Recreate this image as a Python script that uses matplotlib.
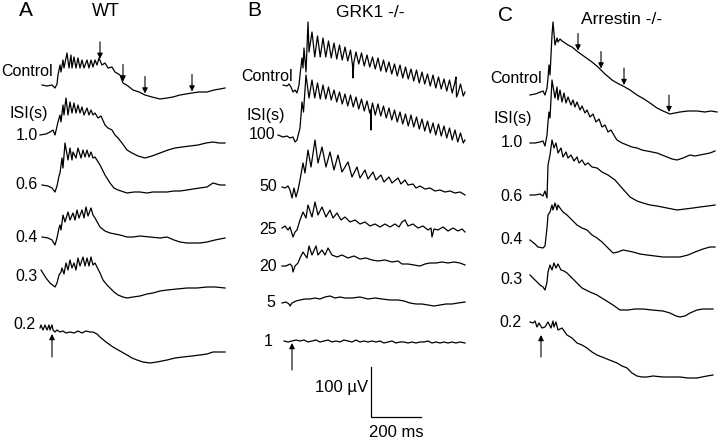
import numpy as np
import matplotlib.pyplot as plt

# Recorded responses, read off the figure:
# each point is (time from the flash in ms, amplitude in uV from the trace baseline)

# A: WT
wt_control = [(-40, 0), (-20, -2), (0, 0), (12, -6), (20, 2), (24, 20), (32, 40), (36, 26), (44, 50),
              (48, 34), (60, 64), (68, 34), (76, 60), (80, 34), (88, 56), (96, 34), (104, 54), (112, 34),
              (120, 50), (128, 34), (140, 50), (148, 34), (156, 50), (164, 36), (172, 50), (180, 40),
              (188, 54), (200, 40), (212, 44), (224, 34), (240, 36), (252, 26), (272, 20), (284, 4),
              (304, -2), (324, -10), (348, -14), (372, -20), (400, -24), (432, -28), (460, -26),
              (484, -24), (512, -20), (536, -18), (560, -16), (588, -14), (620, -14), (648, -10),
              (672, -8), (692, -6)]
wt_1_0 = [(-48, 0), (-24, 2), (-8, 6), (4, 10), (12, 0), (24, 26), (32, 40), (36, 26), (44, 60), (48, 40),
          (56, 74), (64, 40), (72, 66), (80, 44), (88, 64), (96, 44), (104, 60), (112, 44), (120, 56),
          (128, 40), (140, 54), (148, 40), (156, 50), (164, 40), (172, 44), (184, 34), (196, 38), (212, 20),
          (224, 14), (240, 10), (252, 0), (264, -6), (280, -16), (300, -30), (320, -36), (344, -42),
          (372, -46), (400, -42), (432, -36), (464, -30), (492, -26), (520, -24), (552, -22), (584, -20),
          (616, -16), (644, -14), (668, -16), (692, -16)]
wt_0_6 = [(-40, 0), (-16, -2), (0, -6), (12, -14), (20, -2), (28, 18), (32, 24), (40, 54), (44, 34), (52, 84),
          (64, 50), (72, 74), (80, 50), (84, 66), (96, 54), (104, 74), (116, 54), (124, 70), (132, 56),
          (140, 70), (148, 56), (156, 66), (164, 54), (172, 56), (192, 40), (212, 20), (232, 4), (248, -6),
          (264, -10), (300, -16), (328, -14), (352, -14), (380, -16), (404, -14), (432, -14), (460, -14),
          (488, -12), (512, -12), (540, -10), (564, -8), (592, -6), (620, -4), (644, 4), (672, 0), (692, 0)]
wt_0_4 = [(-40, 0), (-16, -2), (0, -6), (12, -16), (20, -2), (28, 18), (32, 24), (36, 14), (44, 44),
          (52, 30), (64, 50), (72, 34), (84, 48), (92, 34), (100, 54), (108, 38), (120, 54), (128, 38),
          (136, 60), (144, 42), (156, 58), (164, 44), (172, 38), (192, 20), (212, 12), (232, 8), (272, 4),
          (300, 0), (324, 0), (352, 2), (392, 0), (432, -2), (460, 0), (488, -6), (512, -10), (540, -12),
          (564, -12), (592, -12), (620, -10), (652, -6), (692, -2)]
wt_0_3 = [(-44, 0), (-24, -16), (-8, -26), (12, -34), (20, -26), (28, -10), (36, -4), (40, 4), (48, -8),
          (56, 14), (64, 0), (72, 20), (80, 4), (88, 14), (96, 0), (104, 24), (112, 8), (124, 26), (132, 8),
          (140, 24), (148, 8), (156, 26), (164, 10), (172, 14), (192, -6), (204, -20), (220, -30),
          (232, -36), (248, -44), (264, -50), (284, -54), (300, -56), (324, -54), (352, -52), (380, -48),
          (404, -46), (432, -42), (460, -40), (500, -38), (540, -36), (580, -36), (620, -34), (652, -34),
          (692, -36)]
wt_0_2 = [(-48, 8), (-44, 14), (-36, 4), (-28, 14), (-20, 4), (-12, 14), (-8, 4), (0, 14), (4, 4), (12, 0),
          (20, 4), (32, 0), (44, 2), (56, -2), (72, 0), (88, -2), (104, 2), (120, -2), (136, 2), (152, 0),
          (164, 0), (180, -4), (192, -10), (216, -20), (244, -30), (272, -38), (300, -46), (320, -52),
          (340, -56), (364, -60), (392, -62), (420, -60), (460, -56), (492, -52), (524, -50), (560, -48),
          (592, -46), (620, -44), (644, -40), (672, -40), (692, -40)]

# B: GRK1 -/-
grk_control = [(-36, 0), (-20, -2), (-12, 2), (-4, -4), (4, -14), (12, -10), (20, -16), (28, 0), (32, 20),
               (40, 54), (44, 34), (48, 74), (56, 26), (64, 126), (68, 66), (80, 106), (91, 56), (102, 98),
               (113, 56), (124, 94), (135, 56), (146, 88), (157, 54), (168, 84), (179, 52), (190, 80),
               (201, 50), (212, 76), (223, 48), (234, 70), (242, 40), (244, 14), (247, 44), (256, 66),
               (267, 42), (278, 64), (289, 38), (300, 60), (311, 36), (322, 56), (333, 32), (344, 54),
               (355, 28), (366, 50), (377, 26), (388, 46), (399, 22), (410, 42), (421, 18), (432, 40),
               (443, 14), (454, 36), (465, 12), (476, 32), (487, 8), (498, 30), (509, 4), (520, 26),
               (531, 2), (542, 22), (553, -2), (564, 20), (575, -6), (586, 16), (597, -8), (608, 12),
               (619, -12), (630, 10), (641, -16), (652, 6), (656, 16), (658, -24), (663, -18), (674, 2),
               (685, -22), (692, -14)]
grk_100 = [(-56, 0), (-36, -4), (-20, -2), (-8, -6), (4, -4), (12, -14), (20, -10), (32, 14), (40, 66),
           (46, 46), (56, 120), (68, 74), (80, 110), (91, 74), (102, 104), (113, 72), (124, 100), (135, 72),
           (146, 96), (157, 70), (168, 90), (179, 66), (190, 86), (201, 62), (212, 82), (223, 58), (234, 80),
           (245, 56), (256, 76), (267, 52), (278, 72), (289, 48), (300, 68), (311, 44), (314, 50), (316, 10),
           (318, 54), (322, 64), (333, 40), (344, 62), (355, 38), (366, 58), (377, 34), (388, 54), (399, 30),
           (410, 50), (421, 26), (432, 46), (443, 22), (454, 42), (465, 18), (476, 40), (487, 16), (498, 36),
           (509, 12), (520, 32), (531, 8), (542, 28), (553, 4), (564, 24), (575, 0), (586, 22), (597, -2),
           (608, 18), (619, -6), (630, 14), (641, -10), (652, 10), (663, -14), (674, 4), (685, -16),
           (692, -10)]
grk_50 = [(-40, 0), (-28, -2), (-16, 2), (-8, -6), (0, -22), (8, -2), (16, -20), (24, -6), (32, 14), (44, 48),
          (52, 28), (64, 74), (76, 40), (92, 94), (104, 48), (120, 80), (136, 40), (152, 70), (168, 34),
          (184, 64), (200, 30), (224, 50), (240, 20), (260, 40), (272, 18), (292, 34), (304, 16), (324, 30),
          (336, 14), (356, 24), (368, 10), (388, 20), (400, 8), (424, 18), (436, 6), (452, 14), (464, 4),
          (484, 6), (496, -2), (512, 2), (532, -4), (552, -2), (572, -8), (592, -6), (612, -10), (632, -8),
          (652, -12), (672, -10), (692, -16)]
grk_25 = [(-40, 0), (-28, 4), (-16, -4), (-8, 2), (4, -18), (12, -8), (20, -4), (32, 16), (44, 32), (56, 20),
          (64, 46), (80, 22), (92, 52), (104, 26), (120, 42), (136, 22), (152, 36), (164, 20), (180, 30),
          (196, 16), (212, 22), (232, 12), (252, 16), (272, 8), (292, 12), (312, 4), (332, 8), (352, 2),
          (372, 8), (392, 2), (412, 8), (428, 2), (440, 12), (452, 16), (464, 4), (484, 8), (504, 0),
          (524, 4), (544, -4), (556, 0), (560, -18), (568, -2), (584, -4), (604, 2), (624, -6), (644, 0),
          (664, -6), (680, -2), (692, -8)]
grk_20 = [(-40, 0), (-24, 0), (-8, 4), (0, 0), (4, -12), (12, 0), (24, 6), (32, 16), (44, 28), (60, 16),
          (68, 40), (80, 22), (96, 40), (104, 22), (120, 32), (132, 22), (144, 36), (160, 22), (180, 18),
          (200, 22), (224, 16), (248, 20), (272, 14), (296, 16), (320, 12), (344, 10), (372, 12), (400, 8),
          (424, 10), (440, 4), (464, 4), (488, 2), (512, 0), (532, 4), (552, 6), (576, 6), (600, 8),
          (624, 6), (648, 8), (672, 6), (692, 2)]
grk_5 = [(-40, 0), (-24, 2), (-12, -2), (-8, -6), (0, 0), (16, 4), (32, 6), (52, 8), (72, 8), (92, 10),
         (112, 8), (132, 12), (152, 14), (172, 10), (192, 12), (212, 10), (240, 10), (272, 12), (304, 8),
         (332, 10), (360, 8), (392, 6), (424, 6), (448, 4), (472, 0), (496, -2), (520, -2), (544, -4),
         (568, -6), (592, -4), (616, -2), (640, -2), (664, 0), (692, 2)]
grk_1 = [(-32, 0), (-16, -2), (0, 0), (16, 2), (32, 0), (48, 2), (64, -2), (80, 0), (96, 2), (112, -2),
         (128, 0), (144, 2), (160, -2), (176, 0), (192, -2), (208, 2), (224, 0), (240, -2), (256, 2),
         (272, -2), (288, 0), (304, -2), (320, 0), (336, -2), (352, 0), (368, -4), (384, -2), (400, 0),
         (416, -4), (432, -2), (448, -2), (464, -4), (480, -2), (496, -4), (512, -2), (528, -2), (544, 0),
         (560, -4), (576, -2), (592, -4), (608, -2), (624, -4), (640, -2), (656, -4), (672, -2), (692, -4)]

# C: Arrestin -/-
arr_control = [(-44, 0), (-24, 2), (-12, 4), (8, 8), (16, 0), (24, 14), (28, 34), (32, 60), (36, 40),
               (44, 120), (48, 146), (56, 100), (64, 114), (68, 106), (76, 112), (84, 108), (96, 104),
               (108, 100), (124, 96), (148, 86), (176, 76), (204, 66), (228, 56), (256, 42), (284, 30),
               (304, 24), (328, 18), (356, 10), (384, 0), (412, -8), (436, -16), (464, -26), (488, -32),
               (516, -38), (536, -36), (556, -34), (588, -32), (624, -32), (656, -34), (680, -32), (704, -34)]
arr_1_0 = [(-44, 0), (-24, 0), (-4, 2), (8, 4), (16, -6), (24, 16), (28, 42), (32, 62), (36, 50), (44, 126),
           (56, 90), (64, 112), (68, 86), (76, 106), (84, 82), (92, 100), (100, 80), (108, 92), (120, 76),
           (128, 86), (136, 72), (144, 82), (156, 66), (164, 74), (176, 60), (184, 66), (196, 52), (208, 58),
           (220, 42), (232, 48), (244, 32), (256, 36), (268, 22), (280, 26), (296, 12), (304, 6), (324, 0),
           (344, -4), (364, -8), (384, -10), (404, -14), (424, -16), (444, -18), (464, -20), (484, -24),
           (504, -28), (524, -32), (544, -34), (568, -30), (596, -24), (616, -26), (636, -24), (656, -22),
           (676, -20), (696, -16)]
arr_0_6 = [(-44, 0), (-24, 0), (-4, 2), (8, -2), (16, 8), (24, -6), (28, 60), (36, 80), (44, 110), (52, 94),
           (60, 104), (68, 84), (80, 94), (88, 76), (100, 86), (108, 74), (120, 80), (132, 68), (144, 76),
           (152, 64), (164, 70), (176, 60), (188, 64), (204, 56), (224, 54), (244, 46), (268, 40), (296, 30),
           (324, 14), (356, -4), (384, -12), (408, -16), (436, -20), (464, -22), (504, -26), (544, -30),
           (576, -28), (608, -26), (636, -24), (668, -22), (696, -20)]
arr_0_4 = [(-44, 0), (-24, -8), (-12, -14), (8, -16), (16, -12), (24, 24), (28, 50), (36, 56), (44, 70),
           (48, 60), (56, 74), (64, 60), (68, 70), (76, 64), (88, 56), (104, 50), (124, 40), (144, 30),
           (164, 24), (184, 20), (204, 10), (224, 4), (244, -4), (264, -14), (288, -26), (308, -24),
           (328, -20), (348, -22), (368, -24), (396, -28), (424, -30), (456, -32), (488, -34), (524, -34),
           (556, -34), (588, -30), (616, -24), (648, -18), (676, -14), (696, -14)]
arr_0_3 = [(-44, 0), (-24, -10), (-4, -20), (8, -24), (16, -30), (24, -14), (28, 6), (36, 20), (44, 10),
           (52, 24), (60, 14), (68, 22), (80, 10), (92, 8), (104, 4), (124, -6), (144, -16), (164, -26),
           (196, -34), (224, -40), (256, -50), (288, -60), (316, -70), (348, -70), (376, -68), (408, -68),
           (444, -70), (488, -72), (516, -76), (540, -82), (556, -84), (576, -82), (596, -76), (624, -70),
           (648, -68), (668, -68), (688, -68)]
arr_0_2 = [(-44, 2), (-32, 0), (-24, 4), (-16, -8), (-8, 0), (4, -10), (16, -8), (28, 2), (40, -10), (48, 4),
           (52, -8), (60, 2), (68, -14), (84, -10), (104, -24), (124, -30), (144, -40), (164, -44),
           (184, -50), (204, -58), (224, -64), (244, -68), (264, -72), (284, -76), (304, -80), (324, -86),
           (344, -90), (364, -100), (384, -106), (404, -108), (424, -108), (448, -106), (488, -108),
           (524, -108), (556, -108), (588, -110), (624, -110), (664, -106), (688, -104)]

wt_traces = [wt_control, wt_1_0, wt_0_6, wt_0_4, wt_0_3, wt_0_2]
grk_traces = [grk_control, grk_100, grk_50, grk_25, grk_20, grk_5, grk_1]
arr_traces = [arr_control, arr_1_0, arr_0_6, arr_0_4, arr_0_3, arr_0_2]

wt_labels = ['Control', 'ISI(s)', '1.0', '0.6', '0.4', '0.3', '0.2']
grk_labels = ['Control', 'ISI(s)', '100', '50', '25', '20', '5', '1']
arr_labels = ['Control', 'ISI(s)', '1.0', '0.6', '0.4', '0.3', '0.2']

wt_marks = [192, 284, 372, 560]    # arrows on the control traces, ms
arr_marks = [148, 240, 332, 512]
scale_ms, scale_uv = 200, 100

# layout, in pixels of the 720 x 441 picture
W, H = 720, 441
MS_PER_PX, UV_PER_PX = 4.0, 2.0
plt.rcParams['font.family'] = ['Liberation Sans', 'DejaVu Sans']
FS = 11.5

fig = plt.figure(figsize=(W / 100, H / 100), dpi=100)


def put(x, y, s, ha='center', size=FS):
    # y is the visual middle of the capitals
    fig.text(x / W, 1 - (y + size * 0.33) / H, s, ha=ha, va='baseline', fontsize=size)


def panel(col, flash_x, traces, bases):
    ax = fig.add_axes([col[0] / W, 0, (col[1] - col[0]) / W, 1])
    offs = [(H - b) * UV_PER_PX for b in bases]
    for tr, off in zip(traces, offs):
        t, v = np.array(tr, dtype=float).T
        ax.plot(t, v + off, color='black', lw=0.9)
    ax.set_xlim((col[0] - flash_x) * MS_PER_PX, (col[1] - flash_x) * MS_PER_PX)
    ax.set_ylim(0, H * UV_PER_PX)
    ax.axis('off')
    return ax, offs


def arrow(ax, x, y_tail, y_tip):
    ax.annotate('', xy=(x, y_tip), xytext=(x, y_tail),
                arrowprops=dict(arrowstyle='-|>', color='black', lw=0.8,
                                mutation_scale=8, shrinkA=0, shrinkB=0))


def marks(ax, trace, off, times):
    t, v = np.array(trace, dtype=float).T
    for m in times:
        tip = np.interp(m, t, v) + off + 3
        arrow(ax, m, tip + 34, tip)


ax_a, offs_a = panel((0, 240), 52, wt_traces, [85, 135, 185, 237, 270, 332])
ax_b, offs_b = panel((240, 480), 292, grk_traces, [85, 135, 187, 228, 266, 303, 341])
ax_c, offs_c = panel((480, 720), 541, arr_traces, [95, 143, 195, 240, 275, 323])

marks(ax_a, wt_control, offs_a[0], wt_marks)
marks(ax_c, arr_control, offs_c[0], arr_marks)

# flash arrows under the last trace
arrow(ax_a, 0, offs_a[-1] - 50, offs_a[-1] - 4)
arrow(ax_b, 0, offs_b[-1] - 58, offs_b[-1] - 4)
arrow(ax_c, 0, offs_c[-1] - 68, offs_c[-1] - 24)

# scale bar
sx, sy = 316, 48
ax_b.plot([sx, sx, sx + scale_ms], [sy + scale_uv, sy, sy], color='black', lw=0.9)

# panel letters and titles
put(26, 11, 'A', size=15)
put(254, 11, 'B', size=15)
put(506, 16, 'C', size=15)
put(106, 12, 'WT', size=13)
put(370, 12.5, 'GRK1 -/-', size=12.5)
put(622, 20, 'Arrestin -/-', size=12.5)

# trace labels
for lab, (x, y) in zip(wt_labels, [(53, 72), (48, 114), (38, 136), (38, 185), (38, 238), (38, 277), (36, 325)]):
    put(x, y, lab, ha='right')
for lab, (x, y) in zip(grk_labels, [(293, 77), (285, 116), (275, 135), (277, 187), (277, 230), (277, 267),
                                    (275, 303), (273, 342)]):
    put(x, y, lab, ha='right')
for lab, (x, y) in zip(arr_labels, [(542, 79), (532, 119), (523, 143), (523, 197), (523, 240), (523, 280),
                                    (522, 323)]):
    put(x, y, lab, ha='right')

put(368, 388, '100 \u00b5V', ha='right', size=12)
put(396, 433, '200 ms', size=12)

fig.savefig('out.png', dpi=100, facecolor='white')
